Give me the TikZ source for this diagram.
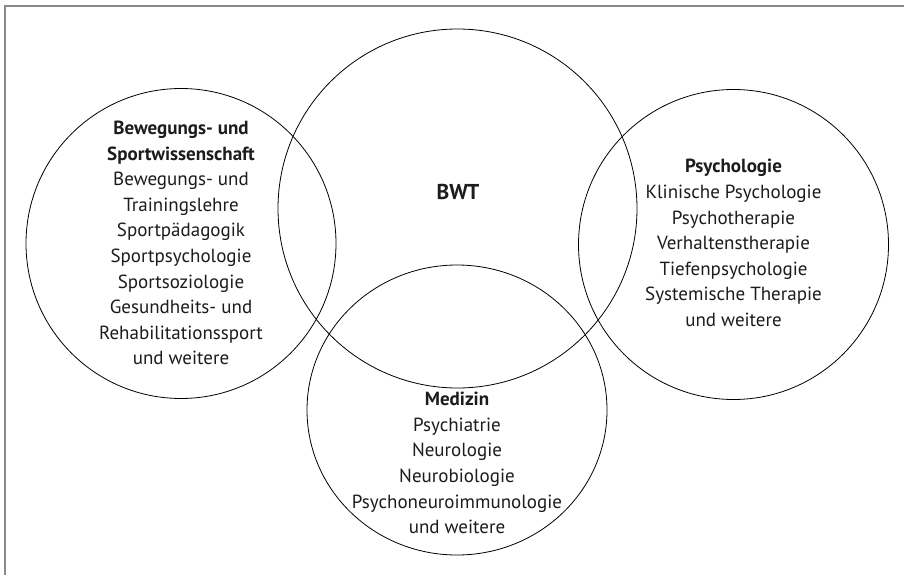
\documentclass[tikz,border=0pt]{standalone}
\usepackage{fontspec}
\setmainfont{PT Sans}
\definecolor{framegray}{RGB}{138,138,142}
\definecolor{txt}{RGB}{30,27,28}
\begin{document}
\begin{tikzpicture}[x=1pt,y=-1pt,
  ring/.style={draw=black,line width=0.8pt},
  lbl/.style={align=center,text=txt,font=\fontsize{19}{25.6}\selectfont,inner sep=0pt},
  big/.style={text=txt,font=\fontsize{21.5}{26}\selectfont\bfseries,inner sep=0pt}]
\useasboundingbox (0,0) rectangle (904,575);
\fill[white] (0,0) rectangle (904,575);
\draw[framegray,line width=2pt] (5,576) -- (5,6) -- (905,6);
% circles
\draw[ring] (181,243.5) circle (155);
\draw[ring] (457.5,208.5) circle (179.5);
\draw[ring] (733.5,244.5) circle (155);
\draw[ring] (457,410) ellipse (150 and 145);
% texts
\node[lbl] (sport) at (181,243) {\textbf{Bewegungs- und}\\\textbf{Sportwissenschaft}\\Bewegungs- und\\Trainingslehre\\Sportpädagogik\\Sportpsychologie\\Sportsoziologie\\Gesundheits- und\\Rehabilitationssport\\und weitere};
\node[big] (bwt) at (458,192) {BWT};
\node[lbl] (psy) at (733.5,243) {\textbf{Psychologie}\\Klinische Psychologie\\Psychotherapie\\Verhaltenstherapie\\Tiefenpsychologie\\Systemische Therapie\\und weitere};
\node[lbl] (med) at (457,463) {\textbf{Medizin}\\Psychiatrie\\Neurologie\\Neurobiologie\\Psychoneuroimmunologie\\und weitere};
\end{tikzpicture}
\end{document}
